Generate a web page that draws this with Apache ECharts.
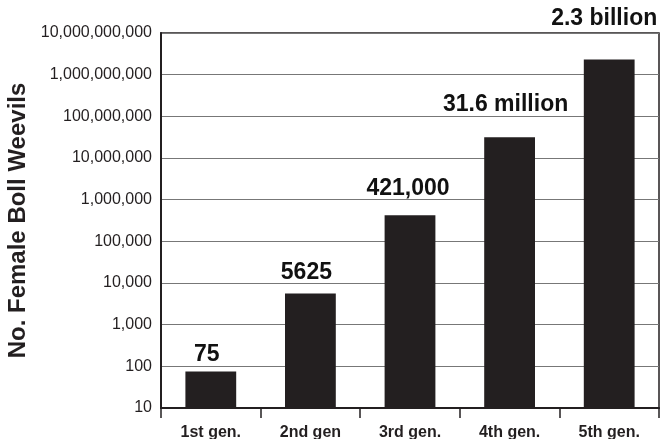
<!DOCTYPE html>
<html><head><meta charset="utf-8">
<script src="https://cdn.jsdelivr.net/npm/echarts@6/dist/echarts.min.js"></script>
<style>html,body{margin:0;padding:0;background:#fff}#c{width:663px;height:439px}</style>
</head><body><div id="c"></div>
<script>
const categories = ['1st gen.', '2nd gen', '3rd gen.', '4th gen.', '5th gen.'];
const values = [75, 5625, 421000, 31600000, 2300000000];
const valueLabels = ['75', '5625', '421,000', '31.6 million', '2.3 billion'];
const labelDistances = [5, 9, 15, 21, 29];
const labelOffsetX = [-4, -4, -2, -4, -5];

const chart = echarts.init(document.getElementById('c'), null, {renderer: 'canvas'});
const font = 'Liberation Sans, Arial, sans-serif';
chart.setOption({
  animation: false,
  textStyle: {fontFamily: font},
  grid: {left: 161, right: 4, top: 33, bottom: 31, show: true, borderColor: '#231f20', borderWidth: 1.5,
    containLabel: false, outerBoundsMode: 'none'},
  xAxis: {
    type: 'category', data: categories,
    axisLine: {lineStyle: {color: '#231f20', width: 2}},
    axisTick: {show: true, length: 10, alignWithLabel: false, lineStyle: {color: '#231f20', width: 1.5}},
    axisLabel: {fontSize: 16, fontWeight: 'bold', color: '#231f20', margin: 17, fontFamily: font}
  },
  yAxis: {
    type: 'log', logBase: 10, min: 10, max: 10000000000, interval: 1,
    name: 'No. Female Boll Weevils', nameLocation: 'middle', nameGap: 121,
    nameTextStyle: {fontSize: 24, fontWeight: 'bold', color: '#231f20', fontFamily: font},
    axisLine: {show: true, lineStyle: {color: '#231f20', width: 2}},
    axisTick: {show: false},
    splitLine: {show: true, lineStyle: {color: '#777777', width: 1.2}},
    minorTick: {show: false}, minorSplitLine: {show: false},
    axisLabel: {fontSize: 16, color: '#231f20', margin: 9, fontFamily: font,
      formatter: v => Math.round(v).toLocaleString('en-US')}
  },
  series: [{
    type: 'bar',
    barWidth: '51%',
    itemStyle: {color: '#231f20'},
    data: values.map((v, i) => ({
      value: v,
      label: {show: true, position: 'top', distance: labelDistances[i], offset: [labelOffsetX[i], 0],
        formatter: valueLabels[i], fontSize: 23, fontWeight: 'bold', color: '#111', fontFamily: font}
    }))
  }]
});
</script></body></html>
